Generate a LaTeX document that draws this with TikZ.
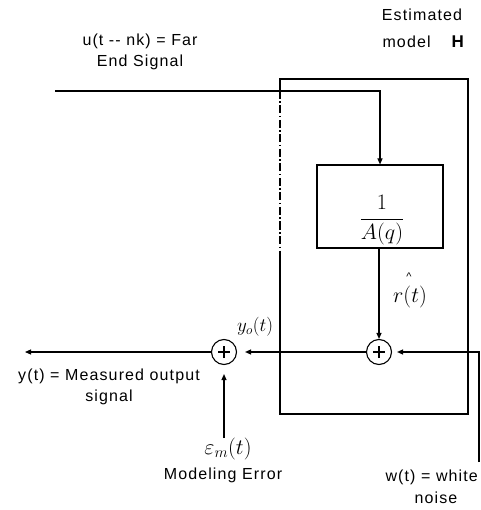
\documentclass[tikz,border=0pt]{standalone}
\usepackage{fix-cm}
\usepackage{fontspec}
\setmainfont{Liberation Sans}[LetterSpace=7]
\usetikzlibrary{arrows.meta}
\begin{document}
\begin{tikzpicture}[x=1pt,y=-1pt, line width=1.1pt,
 lbl/.style={font=\fontsize{16}{21}\selectfont, inner sep=0pt, align=center},
 mathlbl/.style={inner sep=0pt},
 sumnode/.style={circle,draw,minimum size=25pt,inner sep=0pt,
   path picture={\draw[line width=2.4pt]
     ([xshift=-6pt]path picture bounding box.center) -- ([xshift=6pt]path picture bounding box.center)
     ([yshift=-6pt]path picture bounding box.center) -- ([yshift=6pt]path picture bounding box.center);}},
 blk/.style={draw,minimum width=126pt,minimum height=83pt,inner sep=0pt},
 arr/.style={-{Triangle[length=6pt,width=5pt]}},
 dashdot/.style={dash pattern=on 8pt off 2.5pt on 1.5pt off 2.5pt}]
\useasboundingbox (0,0) rectangle (480,510);
\clip (0,0) rectangle (480,510);
% outer box
\coordinate (otl) at (280,79);
\coordinate (otr) at (468,79);
\coordinate (obr) at (468,414);
\coordinate (obl) at (280,414);
\coordinate (odd1) at (280,91);
\coordinate (odd2) at (280,257);
\draw (odd1) -- (otl) -- (otr) -- (obr) -- (obl) -- (odd2);
\draw[dashdot, line width=1.4pt] (odd1) -- (odd2);
% inner block
\node[blk] (blk) at (380,206.5) {};
\node[mathlbl, font=\fontsize{22}{26}\selectfont] (frac) at (382,220) {$\displaystyle\frac{1}{A(q)}$};
% sums
\node[sumnode] (s1) at (224,352) {};
\node[sumnode] (s2) at (379,352) {};
% input
\coordinate (uin) at (55,91);
\coordinate (ucorner) at (380,91);
\draw[arr] (uin) -- (ucorner) -- (blk.north -| ucorner);
% block to sum2
\draw[arr] (blk.south -| s2) -- (s2.north);
% noise
\coordinate (wbot) at (479,462);
\coordinate (wcorner) at (479,352);
\draw[arr, shorten >=5pt] (wbot) -- (wcorner) -- (s2.east);
% sum2 to sum1
\draw[arr, shorten >=8pt] (s2.west) -- (s1.east);
% epsilon
\coordinate (ebot) at (224,438);
\draw[arr, shorten >=9pt] (ebot) -- (s1.south);
% output
\coordinate (yout) at (25,352);
\draw[arr] (s1.west) -- (yout);
% labels
\node[lbl] (est) at (422,15) {Estimated};
\node[lbl, anchor=west] (model) at (382,42) {model\hspace{20pt}\textbf{\fontsize{17}{17}\selectfont H}};
\node[lbl] (ulab) at (140,52) {u(t {-}{-} nk) = Far\\End Signal};
\node[lbl] (ylab) at (109,386.5) {y(t) = Measured output\\signal};
\node[mathlbl, font=\fontsize{22}{22}\selectfont] (eps) at (228,449) {$\varepsilon_m(t)$};
\node[lbl] (mod) at (223,475) {Modeling Error};
\node[lbl, anchor=west] (wlab) at (385,477) {w(t) = white};
\node[lbl] (noise) at (436,498) {noise};
\node[mathlbl, font=\fontsize{19}{19}\selectfont] (yo) at (255,327) {$y_o(t)$};
\node[mathlbl, font=\fontsize{22}{22}\selectfont] (rt) at (410,297) {$r(t)$};
\node[mathlbl, font=\fontsize{11}{11}\selectfont] (rhat) at (409,277) {\textasciicircum};
\end{tikzpicture}
\end{document}
